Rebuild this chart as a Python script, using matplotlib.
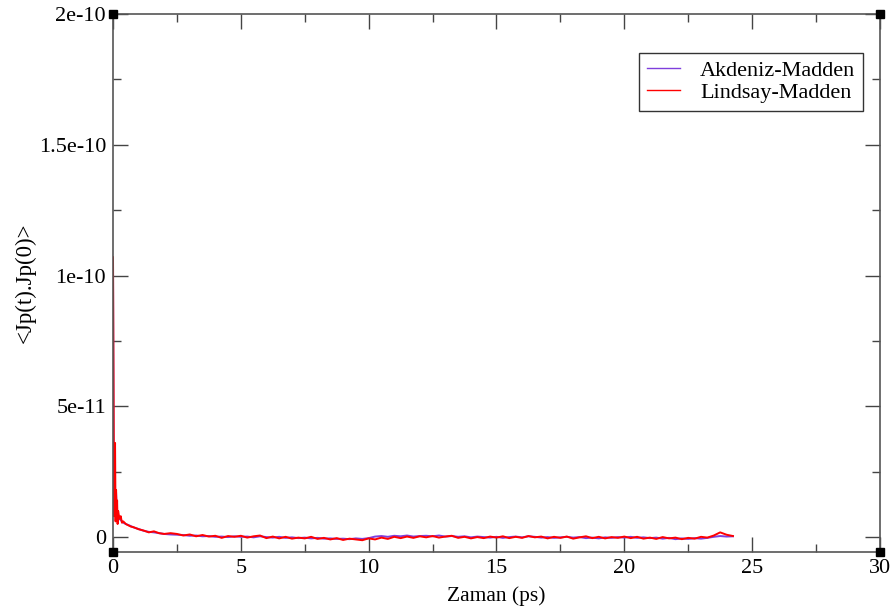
import numpy as np
import matplotlib.pyplot as plt

# zaman ekseni (ps) ve korelasyon degerleri (1e-12 biriminde)
t_start = [0.0, 0.02, 0.04, 0.06, 0.08, 0.10, 0.12, 0.14, 0.16, 0.18, 0.20,
           0.25, 0.30, 0.35, 0.40, 0.50, 0.60, 0.70, 0.80, 1.00, 1.20, 1.40,
           1.60, 1.80, 2.00, 2.25]
t_tail = [2.5 + 0.25 * i for i in range(88)]

akdeniz_start = [105, 40, 10, 8, 12, 15, 17, 12, 10, 8, 7.5,
                 7, 6.5, 6, 5.5, 5, 4.6, 4.2, 3.7, 3.1, 2.4, 2.0,
                 1.8, 1.5, 1.2, 1.0]
akdeniz_tail = [0.9, 0.8, 0.5, 0.6, 0.3, 0.4, 0.1, 0.2, 0.0, 0.3,
                0.1, 0.2, -0.1, 0.3, 0.0, -0.2, 0.1, -0.3, -0.1, -0.4,
                -0.2, -0.5, -0.3, -0.6, -0.5, -0.7, -0.6, -0.8, -0.5, -0.7,
                -0.4, 0.2, 0.4, 0.1, 0.5, 0.3, 0.6, 0.2, 0.4, 0.5,
                0.3, 0.6, 0.2, 0.4, 0.1, 0.3, -0.1, 0.2, 0.0, -0.2,
                0.1, -0.3, 0.0, 0.2, -0.1, 0.3, 0.1, -0.2, 0.0, -0.3,
                -0.1, 0.1, -0.2, 0.0, -0.4, -0.2, -0.5, -0.1, -0.3, 0.0,
                -0.2, 0.1, -0.3, -0.1, -0.4, -0.2, -0.6, -0.3, -0.8, -0.5,
                -0.7, -0.4, -0.6, -0.3, 0.1, 0.4, 0.2, 0.3]

lindsay_start = [107, 60, 8, 20, 36, 6, 18, 9, 14, 5, 10,
                 7, 8, 5.5, 6, 5, 4.5, 4, 3.8, 3.0, 2.5, 1.8,
                 2.2, 1.5, 1.2, 1.5]
lindsay_tail = [1.2, 0.6, 1.0, 0.3, 0.8, 0.2, 0.5, -0.3, 0.4, 0.1,
                0.5, -0.2, 0.3, 0.6, -0.4, 0.2, -0.5, 0.1, -0.6, -0.2,
                -0.5, 0.1, -0.7, -0.3, -0.9, -0.4, -1.1, -0.6, -0.9, -1.2,
                -0.5, -0.9, -0.2, -0.7, 0.1, -0.4, 0.2, -0.3, 0.3, -0.1,
                0.4, -0.2, 0.2, 0.5, -0.3, 0.1, -0.5, 0.0, -0.4, 0.2,
                -0.2, 0.3, -0.4, 0.1, -0.3, 0.4, -0.1, 0.2, -0.5, 0.1,
                -0.3, 0.2, -0.6, -0.1, 0.3, -0.4, 0.1, -0.5, 0.0, -0.3,
                0.2, -0.4, 0.1, -0.6, -0.2, -0.7, 0.0, -0.5, -0.2, -0.8,
                -0.3, -0.6, 0.1, -0.2, 0.6, 1.8, 0.9, 0.4]

y_ticks = [0, 5e-11, 1e-10, 1.5e-10, 2e-10]
y_tick_labels = ["0", "5e-11", "1e-10", "1.5e-10", "2e-10"]
x_ticks = [0, 5, 10, 15, 20, 25, 30]

plt.rcParams['font.family'] = ['Liberation Serif', 'DejaVu Serif']

t = np.array(t_start + t_tail)
akdeniz = np.array(akdeniz_start + akdeniz_tail) * 1e-12
lindsay = np.array(lindsay_start + lindsay_tail) * 1e-12

fig = plt.figure(figsize=(8.92, 6.10), dpi=100)
ax = fig.add_axes([0.1267, 0.0951, 0.8598, 0.8819])

ax.plot(t, akdeniz, color='#7f3fdc', lw=1.4, label='Akdeniz-Madden')
ax.plot(t, lindsay, color='red', lw=1.4, label='Lindsay-Madden')

ax.set_xlim(0, 30)
ax.set_ylim(-5.7e-12, 2e-10)
ax.set_xticks(x_ticks)
ax.set_xticks(np.arange(0, 30.1, 2.5), minor=True)
ax.set_yticks(y_ticks)
ax.set_yticklabels(y_tick_labels)
ax.set_yticks(np.arange(0, 2.01e-10, 2.5e-11), minor=True)

ax.tick_params(which='both', direction='in', top=True, right=True,
               labelsize=16, color='#444444', width=1.0, pad=5)
ax.tick_params(which='major', length=11)
ax.tick_params(which='minor', length=6)
for sp in ax.spines.values():
    sp.set_color('#555555')
    sp.set_linewidth(1.2)

ax.set_xlabel('Zaman (ps)', fontsize=15.5, labelpad=6)
ax.set_ylabel('<Jp(t).Jp(0)>', fontsize=16.5, labelpad=2)

# kose isaretleri
ax.plot([0, 1, 0, 1], [0, 0, 1, 1], 's', color='black', markersize=6,
        transform=ax.transAxes, clip_on=False, zorder=5)

leg = ax.legend(loc='upper right', bbox_to_anchor=(0.978, 0.928),
                fontsize=16, frameon=True, fancybox=False, edgecolor='black',
                handlelength=1.5, borderpad=0.35, labelspacing=0.05,
                handletextpad=0.9, borderaxespad=0)
leg.get_frame().set_linewidth(1.0)
for line in leg.get_lines():
    line.set_linewidth(1.0)

fig.savefig('out.png', dpi=100)
